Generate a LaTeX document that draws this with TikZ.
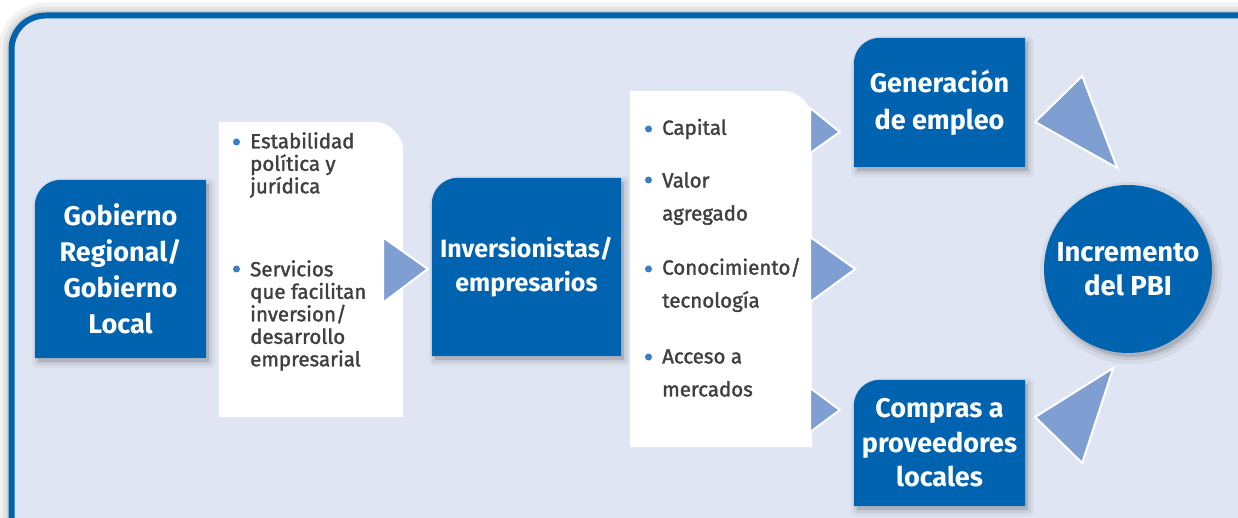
\documentclass[tikz,border=0pt]{standalone}
\usepackage{fontspec}
\setmainfont{Fira Sans}
\newfontfamily\grayfont{Fira Sans}[FakeBold=1.6]
\usetikzlibrary{calc}
\definecolor{boxblue}{HTML}{0063AF}
\definecolor{framebg}{HTML}{DFE5F2}
\definecolor{tri}{HTML}{7F9FD2}
\definecolor{txtgray}{HTML}{404040}
\definecolor{bulletblue}{HTML}{3B7DC9}
\pgfdeclarelayer{back}
\pgfdeclarelayer{shapes}
\pgfsetlayers{back,shapes,main}
\tikzset{
  bluebox/.style={rectangle, inner sep=0pt, align=center, text=white,
    font=\bfseries\fontsize{27}{36}\selectfont},
  whitebox/.style={rectangle, inner sep=0pt},
  itemA/.style={inner sep=0pt, align=left, text=txtgray, anchor=west,
    font=\grayfont\fontsize{20.5}{22.5}\selectfont},
  itemB/.style={inner sep=0pt, align=left, text=txtgray, anchor=west,
    font=\grayfont\fontsize{20.5}{33}\selectfont},
  tristyle/.style={fill=tri, draw=white, line width=2pt, line join=miter},
  dot/.style={circle, fill=bulletblue, inner sep=0pt, minimum size=7pt},
  bluepath/.style n args={2}{insert path={
    (#1.south west) -- ($(#1.north west)+(0,-#2)$)
    arc[start angle=180, end angle=90, radius=#2]
    -- (#1.north east) -- (#1.south east) -- cycle}},
  whitepath/.style n args={2}{insert path={
    (#1.south west) -- (#1.north west) -- ($(#1.north east)+(-#2,0)$)
    arc[start angle=90, end angle=0, radius=#2]
    -- (#1.south east) -- cycle}},
  softshadow/.style={transform canvas={shift={(3,-4)}}},
}
\newcommand\shadowedblue[1]{%
  \begin{pgfonlayer}{shapes}
    \draw[black, draw opacity=.04, line width=12, line join=round, softshadow, bluepath={#1}{26}];
    \draw[black, draw opacity=.06, line width=6, line join=round, softshadow, bluepath={#1}{26}];
    \fill[black, fill opacity=.14, softshadow, bluepath={#1}{26}];
    \fill[boxblue, bluepath={#1}{26}];
  \end{pgfonlayer}}
\begin{document}
\begin{tikzpicture}[x=1pt, y=1pt]
\useasboundingbox (0,0) rectangle (1238,517);
\clip (0,0) rectangle (1238,517);

% frame
\begin{pgfonlayer}{back}
  \fill[white] (0,0) rectangle (1238,517);
  \draw[black, opacity=.05, line width=26, rounded corners=34] (11.5,-60) -- (11.5,501.5) -- (1300,501.5);
  \draw[black, opacity=.06, line width=17, rounded corners=34] (11.5,-60) -- (11.5,501.5) -- (1300,501.5);
  \draw[black, opacity=.08, line width=10, rounded corners=34] (11.5,-60) -- (11.5,501.5) -- (1300,501.5);
  \filldraw[fill=framebg, draw=boxblue, line width=6, rounded corners=34]
    (11.5,-60) -- (11.5,501.5) -- (1300,501.5) -- (1300,-60) -- cycle;
\end{pgfonlayer}

% main nodes
\node[bluebox, minimum width=171, minimum height=178] (gob) at (120.5,248)
  {Gobierno\\Regional/\\Gobierno\\Local};
\node[whitebox, minimum width=184, minimum height=295] (w1) at (311,247.5) {};
\node[bluebox, minimum width=189, minimum height=178, font=\bfseries\fontsize{25}{34}\selectfont] (inv) at (526.5,250)
  {Inversionistas/\\empresarios};
\node[whitebox, minimum width=182, minimum height=356] (w2) at (721,248) {};
\node[bluebox, minimum width=171, minimum height=129, font=\bfseries\fontsize{27}{37}\selectfont] (gen) at (939.5,414.5)
  {Generación\\de empleo};
\node[bluebox, minimum width=171, minimum height=126, font=\bfseries\fontsize{27}{34.5}\selectfont] (com) at (939.5,74)
  {Compras a\\proveedores\\locales};
\node[circle, fill=boxblue, minimum size=168, inner sep=0pt, align=center, text=white,
  font=\bfseries\fontsize{27.5}{34}\selectfont] (pbi) at (1128,248) {Incremento\\del PBI};

% shapes
\shadowedblue{gob}
\shadowedblue{inv}
\shadowedblue{gen}
\shadowedblue{com}
\begin{pgfonlayer}{shapes}
  \fill[white, whitepath={w1}{30}];
  \fill[white, whitepath={w2}{30}];
  \fill[black, opacity=.05] ($(pbi.center)+(3,-4)$) circle[radius=91];
  \fill[black, opacity=.07] ($(pbi.center)+(3,-4)$) circle[radius=87];
  \fill[black, opacity=.12] ($(pbi.center)+(3,-4)$) circle[radius=84];
\end{pgfonlayer}

% bullet texts
\node[itemA] (e1) at (250,352) {Estabilidad\\política y\\jurídica};
\node[itemA] (e2) at (250,201.5) {Servicios\\que facilitan\\inversion/\\desarrollo\\empresarial};
\node[dot] (d1) at (236.5,375) {};
\node[dot] (d2) at (236.5,248) {};

\node[itemB] (c1) at (662,388) {Capital};
\node[itemB] (c2) at (662,318.5) {Valor\\agregado};
\node[itemB] (c3) at (662,232) {Conocimiento/\\tecnología};
\node[itemB] (c4) at (662,144) {Acceso a\\mercados};
\node[dot] (d3) at (648.5,388) {};
\node[dot] (d4) at (648.5,337) {};
\node[dot] (d5) at (648.5,248) {};
\node[dot] (d6) at (648.5,160) {};

% triangle connectors
\draw[tristyle] ($(w1.east)+(-20,32)$) -- ($(inv.west)+(-4,-2)$) -- ($(w1.east)+(-20,-33)$) -- cycle;
\draw[tristyle] ($(w2.east)+(-2,161)$) -- ($(gen.west)+(-14,-29.5)$) -- ($(w2.east)+(-2,116)$) -- cycle;
\draw[tristyle] ($(w2.east)+(-2,32)$) -- ($(w2.east)+(43,0)$) -- ($(w2.east)+(-2,-33)$) -- cycle;
\draw[tristyle] ($(w2.east)+(-2,-119)$) -- ($(com.west)+(-14,33)$) -- ($(w2.east)+(-2,-163)$) -- cycle;
\draw[tristyle] ($(gen.east)+(10,-19.5)$) -- ($(gen.east)+(57,26.5)$) -- ($(gen.east)+(92,-65.5)$) -- cycle;
\draw[tristyle] ($(com.east)+(10,26)$) -- ($(com.east)+(88,75)$) -- ($(com.east)+(57,-20)$) -- cycle;
\end{tikzpicture}
\end{document}
